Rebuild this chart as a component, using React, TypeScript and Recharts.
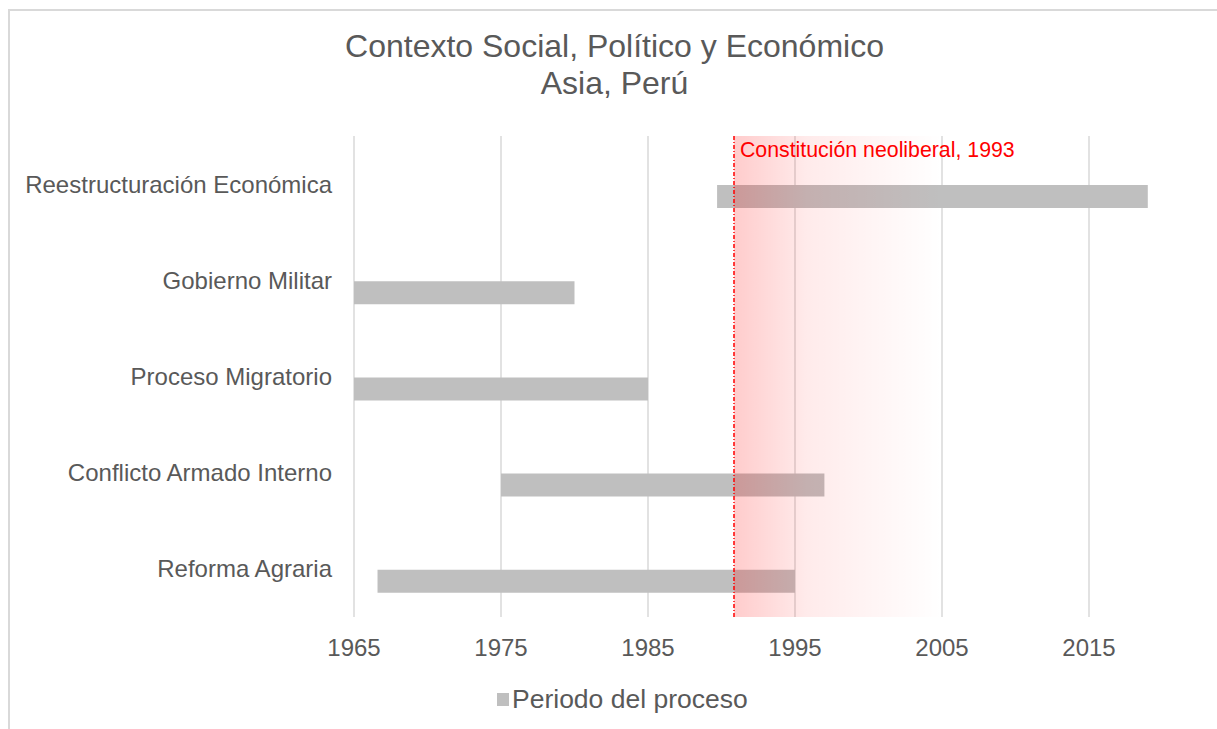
import { BarChart, Bar, XAxis, YAxis, CartesianGrid, ReferenceLine, ReferenceArea, Legend } from 'recharts';

// procesos, de arriba hacia abajo
const procesos = [
  'Reestructuración Económica',
  'Gobierno Militar',
  'Proceso Migratorio',
  'Conflicto Armado Interno',
  'Reforma Agraria',
];
const inicio = [1989.7, 1965, 1965, 1975, 1966.6];
const fin = [2019, 1980, 1985, 1997, 1995];

const anios = [1965, 1975, 1985, 1995, 2005, 2015];

// linea roja y sombra que se desvanece
const lineaConstitucion = 1990.85;
const finSombra = 2005;
const textoConstitucion = 'Constitución neoliberal, 1993';

const data = procesos.map((p, i) => ({ proceso: p, periodo: [inicio[i], fin[i]] }));

const FONT = '"Liberation Sans", Arial, sans-serif';
const GRIS_TEXTO = '#595959';

function Leyenda({ payload }: any) {
  return (
    <div style={{ display: 'flex', alignItems: 'center', fontFamily: FONT }}>
      {(payload || []).map((e: any) => (
        <span key={e.value} style={{ display: 'flex', alignItems: 'center', color: GRIS_TEXTO, fontSize: 26.5 }}>
          <span style={{ display: 'inline-block', width: 12, height: 13, background: e.color, marginRight: 3 }} />
          {e.value}
        </span>
      ))}
    </div>
  );
}

export default function App() {
  return (
    <div style={{ position: 'absolute', left: 0, top: 0, width: 1217, height: 729, overflow: 'hidden', background: '#fff' }}>
      <div style={{ position: 'absolute', left: 8, top: 9, width: 1300, height: 800, borderLeft: '2px solid #d9d9d9', borderTop: '2px solid #d9d9d9' }} />
      <div style={{ position: 'absolute', left: 0, top: 28.4, width: 1229, textAlign: 'center', fontFamily: FONT, fontSize: 32, lineHeight: '37px', color: GRIS_TEXTO }}>
        Contexto Social, Político y Económico
        <br />
        Asia, Perú
      </div>
      <div style={{ position: 'absolute', left: 0, top: 0 }}>
        <BarChart
          width={1260}
          height={729}
          layout="vertical"
          data={data}
          margin={{ top: 136, right: 24, bottom: 82, left: 0 }}
          style={{ fontFamily: FONT }}
        >
          <defs>
            <linearGradient id="sombraRoja" x1="0" y1="0" x2="1" y2="0">
              <stop offset="0%" stopColor="#ff0000" stopOpacity={0.2} />
              <stop offset="35%" stopColor="#ff0000" stopOpacity={0.08} />
              <stop offset="100%" stopColor="#ff0000" stopOpacity={0} />
            </linearGradient>
          </defs>
          <CartesianGrid horizontal={false} stroke="#d9d9d9" strokeWidth={1.5} />
          <XAxis
            type="number"
            domain={[1965, 2025]}
            ticks={anios}
            allowDataOverflow
            axisLine={false}
            tickLine={false}
            tickSize={0}
            tickMargin={22}
            height={30}
            tick={{ fill: GRIS_TEXTO, fontSize: 24 }}
          />
          <YAxis
            type="category"
            dataKey="proceso"
            width={354}
            axisLine={false}
            tickLine={false}
            tickSize={0}
            tickMargin={22}
            tick={{ fill: GRIS_TEXTO, fontSize: 24 }}
          />
          <YAxis yAxisId="barras" type="category" dataKey="proceso" hide padding={{ top: 12, bottom: -12 }} />
          <Bar
            yAxisId="barras"
            dataKey="periodo"
            name="Periodo del proceso"
            fill="#bfbfbf"
            barSize={23}
            isAnimationActive={false}
          />
          <ReferenceArea x1={lineaConstitucion} x2={finSombra} fill="url(#sombraRoja)" fillOpacity={1} stroke="none" zIndex={350} />
          <ReferenceLine
            x={lineaConstitucion}
            stroke="#ff0000"
            strokeWidth={1.5}
            strokeDasharray="4 2 1 2"
            zIndex={360}
            label={{ value: textoConstitucion, position: 'insideTopLeft', offset: 6, fill: '#ff0000', fontSize: 21.3 }}
          />
          <Legend
            layout="horizontal"
            verticalAlign="middle"
            align="center"
            content={<Leyenda />}
            wrapperStyle={{ left: 497, top: 684, width: 400 }}
          />
        </BarChart>
      </div>
    </div>
  );
}
